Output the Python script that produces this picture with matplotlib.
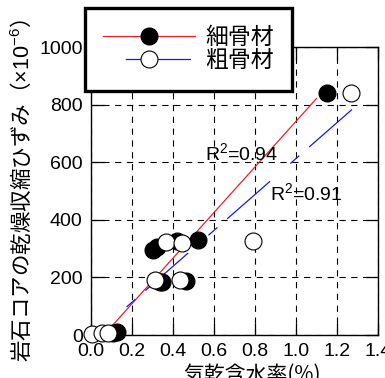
import numpy as np
import matplotlib
matplotlib.use("Agg")
import matplotlib.pyplot as plt  # noqa: E402
from matplotlib.lines import Line2D  # noqa: E402

plt.rcParams["font.family"] = ["Liberation Sans", "Noto Sans CJK JP"]
plt.rcParams["mathtext.fontset"] = "custom"
plt.rcParams["mathtext.rm"] = "Liberation Sans"
plt.rcParams["mathtext.it"] = "Liberation Sans:italic"
plt.rcParams["lines.scale_dashes"] = False

# 細骨材 (fine aggregate): moisture content (%) vs drying shrinkage (x1e-6)
fine_x = [0.107, 0.127, 0.30, 0.32, 0.335, 0.345, 0.42, 0.465, 0.52, 1.15]
fine_y = [7, 10, 295, 305, 185, 183, 325, 188, 329, 842]
# 粗骨材 (coarse aggregate)
coarse_x = [0.005, 0.054, 0.083, 0.31, 0.366, 0.434, 0.444, 0.79, 1.27]
coarse_y = [3, 7, 7, 190, 322, 190, 319, 326, 842]

# regression lines (end points)
fit_fine_x = [0.107, 1.10]
fit_fine_y = [35, 821]
fit_coarse_x = [1.273, 0.117]
fit_coarse_y = [783, 62]
r2_fine = 0.94
r2_coarse = 0.91

labels = ["細骨材", "粗骨材"]
xticks = [0.0, 0.2, 0.4, 0.6, 0.8, 1.0, 1.2, 1.4]
yticks = [0, 200, 400, 600, 800, 1000]

W, H = 385, 378
fig = plt.figure(figsize=(W / 100, H / 100), dpi=100)
ax = fig.add_axes([91 / W, 1 - 335 / H, 287 / W, 288 / H])

blue_dash = (0, (41, 9.4, 8.6, 19.4))
ax.plot(fit_fine_x, fit_fine_y, color="#e8202a", lw=0.9, zorder=2)
ax.plot(fit_coarse_x, fit_coarse_y, color="#1a1adc", lw=0.9,
        ls=blue_dash, zorder=2)

ms = 12.2
ax.plot(fine_x, fine_y, "o", ms=ms, mfc="black", mec="black", mew=0.8,
        zorder=3, clip_on=False)
ax.plot(coarse_x, coarse_y, "o", ms=ms, mfc="white", mec="black",
        mew=0.8, zorder=4, clip_on=False)

ax.text(0.556, 631, f"R$^2$={r2_fine:.2f}", fontsize=14, va="center",
        ha="left", zorder=5)
ax.text(0.872, 494, f"R$^2$={r2_coarse:.2f}", fontsize=14, va="center",
        ha="left", zorder=5)

ax.set_xlim(0, 1.4)
ax.set_ylim(0, 1000)
ax.set_xticks(xticks)
ax.set_yticks(yticks)
ax.tick_params(direction="in", length=9, width=0.9, labelsize=14, pad=6,
               top=True, right=True)
ax.grid(True, color="black", lw=0.8, ls=(0, (4.5, 4)))
ax.set_axisbelow(True)
for sp in ax.spines.values():
    sp.set_linewidth(1.0)

ax.set_xlabel("気乾含水率(%)", fontsize=15, family="Noto Sans CJK JP")
ax.xaxis.set_label_coords(0.561, -0.1)
ax.set_ylabel("岩石コアの乾燥収縮ひずみ（$\\times10^{-6}$）", fontsize=15.5,
              family="Noto Sans CJK JP", va="center")
ax.yaxis.set_label_coords(-0.24, 0.5)

h_fine = Line2D([], [], color="#e8202a", lw=0.9, marker="o", ms=ms,
                mfc="black", mec="black", mew=0.8)
h_coarse = Line2D([], [], color="#1a1adc", lw=0.9, ls=(47, (47, 16)),
                  marker="o", ms=ms, mfc="white", mec="black", mew=0.8)
leg = fig.legend([h_fine, h_coarse], labels, loc="upper left",
                 bbox_to_anchor=(85 / W, 1 - 8 / H), borderaxespad=0,
                 prop={"family": "Noto Sans CJK JP", "size": 16.5},
                 handlelength=4.0, handletextpad=0.44,
                 labelspacing=0.0, borderpad=0.8, fancybox=False,
                 framealpha=1, edgecolor="black")
leg.get_frame().set_linewidth(2.4)

fig.savefig("out.png", dpi=100)
